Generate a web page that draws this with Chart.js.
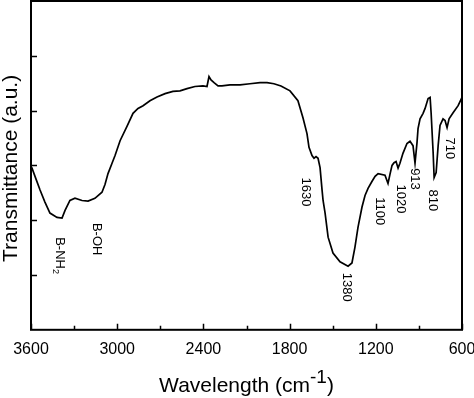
<!DOCTYPE html>
<html>
<head>
<meta charset="utf-8">
<script src="https://cdn.jsdelivr.net/npm/chart.js@4.4.1/dist/chart.umd.min.js"></script>
<style>
  html, body { margin: 0; padding: 0; background: #fff; }
  #wrap { width: 474px; height: 398px; }
</style>
</head>
<body>
<div id="wrap"><canvas id="ftirChart" width="474" height="398"></canvas></div>
<script>
// spectrum (cm-1, transmittance a.u.)
const wavenumber = [
  3600, 3593, 3565, 3537, 3503, 3468, 3419, 3384, 3363, 3329, 3294, 3245, 3203, 3155,
  3106, 3085, 3064, 3036, 3015, 2980, 2932, 2890, 2855, 2820, 2772, 2723, 2667, 2612,
  2563, 2514, 2459, 2403, 2375, 2361, 2347, 2326, 2298, 2271, 2215, 2145, 2076, 2006,
  1957, 1909, 1860, 1797, 1742, 1707, 1679, 1665, 1644, 1630, 1616, 1602, 1588, 1574,
  1567, 1553, 1532, 1498, 1449, 1393, 1366, 1345, 1324, 1296, 1275, 1254, 1226, 1205,
  1184, 1136, 1115, 1101, 1087, 1073, 1059, 1045, 1032, 1011, 983, 962, 941, 927,
  913, 906, 892, 871, 857, 836, 822, 815, 801, 794, 780, 766, 753, 732,
  718, 704, 690, 662, 627, 600
];
const transmittance = [
  2.98, 2.95, 2.75, 2.55, 2.33, 2.13, 2.05, 2.04, 2.18, 2.36, 2.40, 2.36, 2.35, 2.40,
  2.51, 2.65, 2.85, 3.04, 3.18, 3.45, 3.71, 3.95, 4.04, 4.09, 4.18, 4.25, 4.31, 4.35,
  4.36, 4.40, 4.44, 4.45, 4.44, 4.62, 4.56, 4.51, 4.45, 4.45, 4.47, 4.47, 4.49, 4.51,
  4.51, 4.49, 4.45, 4.36, 4.18, 3.87, 3.58, 3.33, 3.18, 3.13, 3.16, 3.13, 2.96, 2.55,
  2.36, 2.13, 1.69, 1.40, 1.24, 1.16, 1.22, 1.51, 1.87, 2.24, 2.45, 2.58, 2.71, 2.80,
  2.85, 2.82, 2.67, 2.84, 3.00, 3.05, 3.07, 2.95, 3.04, 3.22, 3.40, 3.44, 3.36, 3.04,
  3.42, 3.67, 3.85, 3.95, 4.04, 4.22, 4.24, 3.96, 3.24, 2.78, 2.87, 3.36, 3.73, 3.85,
  3.82, 3.69, 3.85, 3.96, 4.09, 4.24
];
const xTickValues = [3600, 3000, 2400, 1800, 1200, 600];
const xMinorValues = [3300, 2700, 2100, 1500, 900];
const yTickValues = [1, 2, 3, 4, 5];

// band labels (text, sub, wavenumber of label centre, value at label top)
const bandText = ['B-NH', 'B-OH', '1630', '1380', '1100', '1020', '913', '810', '710'];
const bandSub  = ['2', '', '', '', '', '', '', '', ''];
const bandAt   = [3398, 3144, 1686, 1400, 1171, 1025, 927, 802, 684];
const bandTop  = [1.69, 1.95, 2.78, 1.04, 2.42, 2.65, 2.95, 2.56, 3.51];

const FONT = 'Arial, "Liberation Sans", sans-serif';

const framePlugin = {
  id: 'frame',
  afterDraw(chart) {
    const ctx = chart.ctx;
    const a = chart.chartArea;
    const xs = chart.scales.x, ys = chart.scales.y;
    ctx.save();
    ctx.strokeStyle = '#000';
    ctx.lineWidth = 2;
    ctx.strokeRect(a.left, a.top, a.right - a.left, a.bottom - a.top);

    // inward ticks
    ctx.lineWidth = 1.5;
    ctx.beginPath();
    xTickValues.forEach(v => {
      const px = Math.round(xs.getPixelForValue(v)) + 0.5;
      ctx.moveTo(px, a.bottom); ctx.lineTo(px, a.bottom - 6);
    });
    xMinorValues.forEach(v => {
      const px = Math.round(xs.getPixelForValue(v)) + 0.5;
      ctx.moveTo(px, a.bottom); ctx.lineTo(px, a.bottom - 4);
    });
    yTickValues.forEach(v => {
      const py = Math.round(ys.getPixelForValue(v)) + 0.5;
      ctx.moveTo(a.left, py); ctx.lineTo(a.left + 6, py);
    });
    ctx.stroke();

    // band labels, rotated to read top to bottom
    ctx.fillStyle = '#000';
    bandText.forEach((t, i) => {
      const px = xs.getPixelForValue(bandAt[i]);
      const py = ys.getPixelForValue(bandTop[i]);
      ctx.save();
      ctx.translate(px, py);
      ctx.rotate(Math.PI / 2);
      ctx.font = '13px ' + FONT;
      ctx.textAlign = 'left';
      ctx.textBaseline = 'middle';
      ctx.fillText(t, 0, 0);
      if (bandSub[i]) {
        const w = ctx.measureText(t).width;
        ctx.font = '9px ' + FONT;
        ctx.fillText(bandSub[i], w, 5);
      }
      ctx.restore();
    });

    // x title with superscript
    const main = 'Wavelength (cm', sup = '-1', tail = ')';
    ctx.font = '21px ' + FONT;
    const w1 = ctx.measureText(main).width;
    const w3 = ctx.measureText(tail).width;
    ctx.font = '19px ' + FONT;
    const w2 = ctx.measureText(sup).width;
    let x0 = (a.left + a.right) / 2 - (w1 + w2 + w3) / 2;
    const base = 392;
    ctx.textAlign = 'left';
    ctx.textBaseline = 'alphabetic';
    ctx.font = '21px ' + FONT;
    ctx.fillText(main, x0, base);
    ctx.font = '19px ' + FONT;
    ctx.fillText(sup, x0 + w1, base - 9);
    ctx.font = '21px ' + FONT;
    ctx.fillText(tail, x0 + w1 + w2, base);

    // y title
    ctx.save();
    ctx.translate(17, (a.top + a.bottom) / 2 + 3);
    ctx.rotate(-Math.PI / 2);
    ctx.textAlign = 'center';
    ctx.fillText('Transmittance (a.u.)', 0, 0);
    ctx.restore();

    ctx.restore();
  }
};

const ftirChart = new Chart(document.getElementById('ftirChart').getContext('2d'), {
  type: 'line',
  data: {
    datasets: [{
      data: wavenumber.map((w, i) => ({ x: w, y: transmittance[i] })),
      borderColor: '#000',
      borderWidth: 1.7,
      pointRadius: 0,
      tension: 0,
      fill: false
    }]
  },
  options: {
    responsive: false,
    animation: false,
    devicePixelRatio: 1,
    layout: { padding: { left: 31, right: 12, top: 1, bottom: 29 } },
    plugins: { legend: { display: false }, tooltip: { enabled: false } },
    scales: {
      x: {
        type: 'linear',
        reverse: true,
        min: 600,
        max: 3600,
        afterBuildTicks(scale) { scale.ticks = xTickValues.map(v => ({ value: v })); },
        afterFit(scale) { scale.paddingLeft = 0; scale.paddingRight = 0; },
        ticks: {
          color: '#000',
          font: { family: FONT, size: 16 },
          padding: 10,
          maxRotation: 0,
          callback: v => String(v)
        },
        grid: { display: false, drawTicks: false },
        border: { display: false }
      },
      y: {
        type: 'linear',
        min: 0,
        max: 6,
        display: false
      }
    }
  },
  plugins: [framePlugin]
});
</script>
</body>
</html>
